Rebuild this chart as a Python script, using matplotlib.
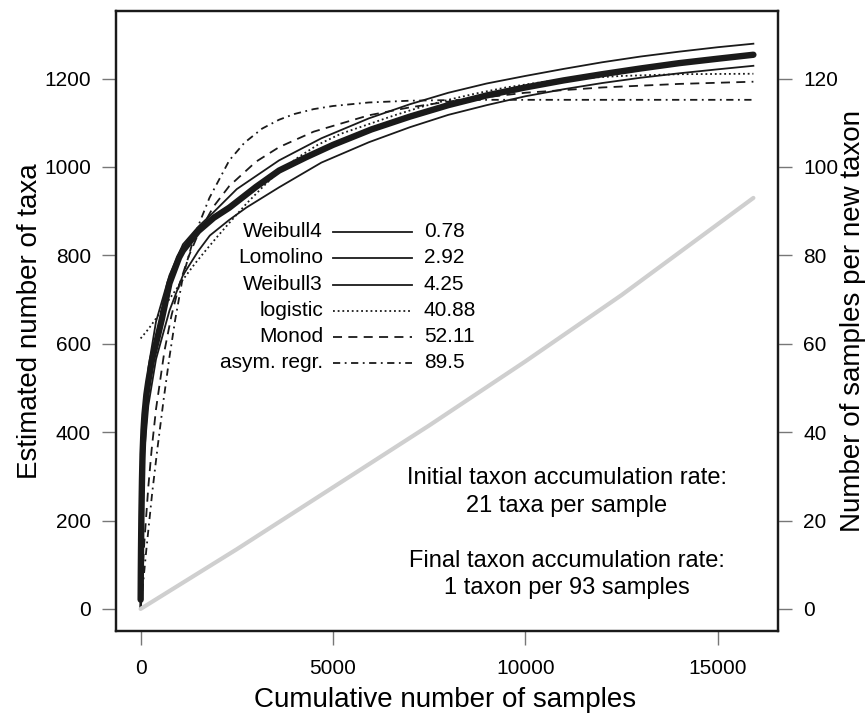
import matplotlib
matplotlib.use("Agg")
import matplotlib.pyplot as plt

plt.rcParams['font.family'] = ['Liberation Sans', 'DejaVu Sans']

# observed accumulation curve (thick line)
obs_x = [1, 5, 10, 20, 35, 50, 75, 100, 150, 200, 300, 400, 550, 750, 1000, 1100, 1500, 1900, 2306,
         3000, 3600, 4300, 5000, 6000, 7000, 8000, 9000, 10000, 11000, 12000, 13000, 14000, 15000, 15930]
obs_y = [21, 80, 130, 210, 290, 350, 405, 440, 485, 515, 565, 600, 655, 737, 795, 811, 855, 885, 908,
         955, 992, 1022, 1050, 1085, 1114, 1140, 1162, 1180, 1196, 1210, 1223, 1235, 1245, 1254]

# fitted models
w4_x = [0, 5, 10, 20, 35, 50, 75, 100, 150, 200, 300, 400, 550, 750, 1000, 1100, 1500, 1900, 2306,
        3000, 3600, 4300, 5000, 6000, 7000, 8000, 9000, 10000, 11000, 12000, 13000, 14000, 15000, 15930]
w4_y = [0, 70, 125, 208, 290, 352, 410, 447, 494, 525, 576, 611, 666, 746, 803, 818, 861, 890, 912,
        958, 994, 1023, 1051, 1086, 1115, 1141, 1163, 1181, 1197, 1211, 1224, 1236, 1246, 1255]

lomo_x = [0, 10, 25, 50, 100, 200, 400, 750, 1100, 1500, 1865, 2500, 3600, 4700, 5933, 7000, 8000,
          9000, 10000, 11000, 12000, 13000, 14000, 15000, 15930]
lomo_y = [0, 140, 240, 340, 445, 545, 650, 755, 825, 865, 895, 950, 1015, 1065, 1110, 1142, 1168,
          1189, 1206, 1222, 1237, 1250, 1261, 1271, 1279]

w3_x = [0, 10, 25, 50, 100, 200, 400, 750, 1100, 1500, 1800, 2300, 2746, 3600, 4700, 5933, 7000,
        8000, 9000, 10000, 11000, 12000, 13000, 14000, 15000, 15930]
w3_y = [0, 90, 175, 260, 360, 460, 565, 675, 755, 810, 845, 880, 908, 954, 1010, 1056, 1090,
        1118, 1140, 1160, 1176, 1190, 1202, 1212, 1221, 1229]

logi_x = [0, 200, 400, 700, 1100, 1400, 1700, 2000, 2300, 2750, 3200, 3600, 4100, 4600, 5200, 5933,
          6600, 7300, 8000, 8700, 9500, 10500, 11500, 12500, 14000, 15930]
logi_y = [612, 633, 657, 695, 745, 780, 812, 843, 873, 917, 957, 990, 1022, 1050, 1075, 1097,
          1117, 1136, 1152, 1166, 1180, 1193, 1201, 1206, 1210, 1211]

monod_x = [0, 50, 100, 200, 285, 400, 620, 800, 1010, 1250, 1500, 1900, 2306, 3000, 3601, 4500, 5933,
           7000, 8000, 10000, 12000, 14000, 15930]
monod_y = [0, 82, 155, 276, 359, 452, 584, 663, 735, 798, 849, 911, 957, 1012, 1045, 1080, 1117,
           1135, 1148, 1168, 1180, 1188, 1193]

asym_x = [0, 150, 300, 440, 600, 750, 900, 1100, 1400, 1788, 2306, 2700, 3161, 3600, 4000, 4500,
          5000, 5933, 7000, 8500, 15930]
asym_y = [0, 135, 262, 365, 475, 570, 655, 752, 845, 930, 1015, 1055, 1087, 1107, 1120, 1131,
          1138, 1146, 1150, 1152, 1152]

# samples per new taxon (grey line, right axis)
spt_x = [0, 2500, 5000, 7500, 10000, 12500, 15930]
spt_y = [0, 13.5, 27.5, 41.5, 56, 71, 93]

labels = ["Weibull4", "Lomolino", "Weibull3", "logistic", "Monod", "asym. regr."]
scores = ["0.78", "2.92", "4.25", "40.88", "52.11", "89.5"]
styles = ["-", "-", "-", (0, (1, 1.6)), (0, (5, 3.5)), (0, (4, 2.5, 1, 2.5))]

W, H = 867, 716
fig = plt.figure(figsize=(W / 100, H / 100), dpi=100)
L, R, T, B = 116, 778, 11, 631
ax = fig.add_axes([L / W, 1 - B / H, (R - L) / W, (B - T) / H])
ax2 = ax.twinx()


def fx(px):
    return (px - L) / (R - L)


def fy(py):
    return 1 - (py - T) / (B - T)


ax2.plot(spt_x, spt_y, color='#cfcfcf', lw=3, solid_capstyle='round', zorder=1)

series = [(w4_x, w4_y), (lomo_x, lomo_y), (w3_x, w3_y), (logi_x, logi_y), (monod_x, monod_y), (asym_x, asym_y)]
for (xs, ys), ls in zip(series, styles):
    ax.plot(xs, ys, color='#1a1a1a', lw=1.3, linestyle=ls)
ax.plot(obs_x, obs_y, color='#1a1a1a', lw=4.6, solid_capstyle='round')

ax.set_xlim(-640, 16570)
ax.set_ylim(-50, 1353)
ax2.set_ylim(-5.0, 135.3)
ax.set_xticks([0, 5000, 10000, 15000])
ax.set_yticks([0, 200, 400, 600, 800, 1000, 1200])
ax2.set_yticks([0, 20, 40, 60, 80, 100, 120])

for a in (ax, ax2):
    a.tick_params(length=10, width=1, color='#777777', labelsize=15, direction='out')
    for s in a.spines.values():
        s.set_linewidth(1.6)
        s.set_color('#1a1a1a')
ax.tick_params(axis='x', pad=10)
ax.tick_params(axis='y', pad=8)
ax2.tick_params(axis='y', pad=8)

ax.set_xlabel("Cumulative number of samples", fontsize=20, va='center')
ax.xaxis.set_label_coords(fx(445), fy(700))
ax.set_ylabel("Estimated number of taxa", fontsize=20, va='center', ha='center')
ax.yaxis.set_label_coords(fx(30), 0.5)
ax2.set_ylabel("Number of samples per new taxon", fontsize=20, rotation=90,
               rotation_mode='anchor', va='baseline', ha='center')
ax2.yaxis.set_label_coords(fx(860), 0.5)

# legend drawn by hand
rows = [232, 258, 285, 311, 337, 363]
for py, lab, sc, ls in zip(rows, labels, scores, styles):
    ax.text(fx(323), fy(py), lab, transform=ax.transAxes, ha='right', va='center', fontsize=15)
    ax.plot([fx(333), fx(412)], [fy(py), fy(py)], transform=ax.transAxes,
            color='#1a1a1a', lw=1.3, linestyle=ls)
    ax.text(fx(424), fy(py), sc, transform=ax.transAxes, ha='left', va='center', fontsize=15)

notes = ["Initial taxon accumulation rate:", "21 taxa per sample",
         "Final taxon accumulation rate:", "1 taxon per 93 samples"]
for py, txt in zip([478, 506, 561, 588], notes):
    ax.text(fx(567), fy(py), txt, transform=ax.transAxes, ha='center', va='center', fontsize=17)

fig.savefig("out.png", dpi=100)
